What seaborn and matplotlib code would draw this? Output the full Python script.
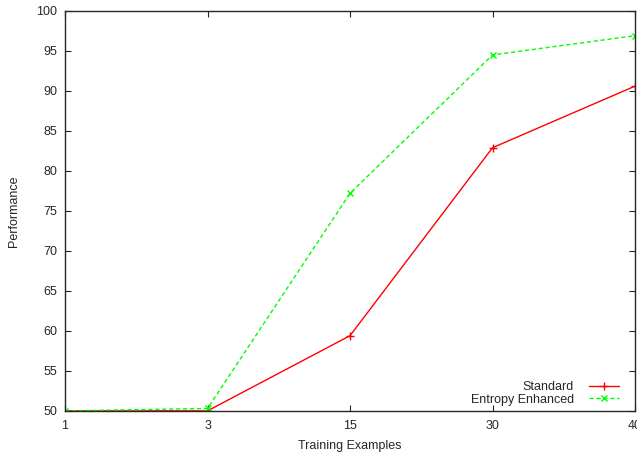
import numpy as np
import pandas as pd
import matplotlib
matplotlib.use('Agg')
import matplotlib.pyplot as plt
import seaborn as sns

# data
x_labels = ['1', '3', '15', '30', '40']
standard = [50.0, 50.0, 59.4, 82.9, 90.6]
entropy = [50.0, 50.3, 77.2, 94.5, 96.9]

sns.set_style('ticks')
plt.rcParams['font.family'] = ['Liberation Sans', 'DejaVu Sans']

pos = np.arange(len(x_labels))
df = pd.DataFrame({'pos': np.concatenate([pos, pos]),
                   'val': standard + entropy,
                   'series': ['Standard'] * 5 + ['Entropy Enhanced'] * 5})

fig = plt.figure(figsize=(6.37, 4.54), dpi=100)
ax = fig.add_axes([0.102, 0.095, 0.895, 0.881])

sns.lineplot(data=df[df.series == 'Standard'], x='pos', y='val', ax=ax, color='#ff0000',
             marker='+', markersize=6, markeredgewidth=1, markeredgecolor='#ff0000',
             linewidth=1, label='Standard')
sns.lineplot(data=df[df.series == 'Entropy Enhanced'], x='pos', y='val', ax=ax, color='#00ff00',
             marker='x', markersize=5, markeredgewidth=1, markeredgecolor='#00ff00',
             linewidth=1, linestyle=(0, (3, 2)), label='Entropy Enhanced')

ax.set_xlim(0, 4)
ax.set_ylim(50, 100)
ax.set_xticks(pos)
ax.set_xticklabels(x_labels)
ax.set_yticks(np.arange(50, 101, 5))
ax.tick_params(direction='in', top=True, right=True, labelsize=9, length=4.5, width=0.8)
ax.tick_params(axis='x', pad=6.5)
ax.tick_params(axis='y', pad=5.5)
for s in ax.spines.values():
    s.set_linewidth(1)
    s.set_visible(True)
ax.set_xlabel('Training Examples', fontsize=9, labelpad=6)
ax.set_ylabel('Performance', fontsize=9, labelpad=12)

leg = ax.legend(loc='lower right', frameon=False, fontsize=9, markerfirst=False,
                handlelength=2.4, borderaxespad=0.0, borderpad=0.4, labelspacing=0.05,
                handletextpad=1.2, bbox_to_anchor=(0.98, 0.0))

fig.savefig('out.png', dpi=100)
